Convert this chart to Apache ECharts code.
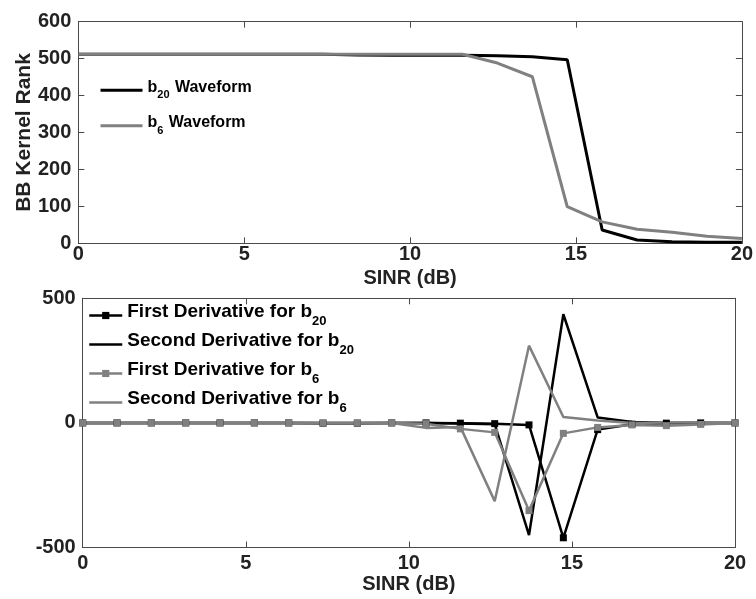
<!DOCTYPE html>
<html>
<head>
<meta charset="utf-8">
<script src="https://cdn.jsdelivr.net/npm/echarts@6/dist/echarts.min.js"></script>
<style>
  html, body { margin: 0; padding: 0; background: #fff; }
  #chart { width: 756px; height: 599px; }
</style>
</head>
<body>
<div id="chart"></div>
<script>
// ---- data ----
const sinr = [0, 1.053, 2.105, 3.158, 4.211, 5.263, 6.316, 7.368, 8.421, 9.474,
              10.526, 11.579, 12.632, 13.684, 14.737, 15.789, 16.842, 17.895, 18.947, 20];

const rankB20 = [512, 512, 512, 512, 512, 512, 512, 512, 510, 509,
                 509, 509, 508, 505, 497, 36, 9, 4, 3, 3];
const rankB6  = [512, 512, 512, 512, 512, 512, 512, 512, 512, 512,
                 512, 512, 488, 451, 99, 58, 38, 30, 19, 13];

const firstDerivB20  = [0, 0, 0, 0, 0, 0, 0, -1, -1, 0,
                        0, -1, -3, -8, -461, -27, -5, -1, 0, 0];
const secondDerivB20 = [0, 0, 0, 0, 0, 0, 0, 0, 0, 0,
                        0, -2, -5, -450, 436, 22, 4, 1, 0, 0];
const firstDerivB6   = [0, 0, 0, 0, 0, 0, 0, 0, 0, 0,
                        -3, -24, -38, -352, -42, -18, -8, -11, -6, 0];
const secondDerivB6  = [0, 0, 0, 0, 0, 0, 0, 0, 0, 0,
                        -20, -16, -314, 310, 24, 10, 0, 2, 3, 0];

const xTicks = { min: 0, max: 20, interval: 5 };
const topYTicks = { min: 0, max: 600, interval: 100 };
const botYTicks = { min: -500, max: 500, interval: 500 };

const topNames = ['b20 Waveform', 'b6 Waveform'];
const botNames = ['First Derivative for b20', 'Second Derivative for b20',
                  'First Derivative for b6', 'Second Derivative for b6'];

// ---- styling ----
const FONT = "'Liberation Sans', Arial, Helvetica, sans-serif";
const BLACK = '#000000';
const GRAY = '#808080';
const AXIS = '#4a4a4a';
const TEXT = '#222222';

function pair(arr) { return sinr.map((x, i) => [x, arr[i]]); }

function subFormatter(name) {
  const m = name.match(/^(.*b)(\d+)(.*)$/);
  if (!m) return '{n|' + name + '}';
  let s = '{n|' + m[1] + '}{s|' + m[2] + '}';
  if (m[3]) s += '{n|' + m[3] + '}';
  return s;
}

function xAxes(grid, nameGap, labelMargin) {
  return [
    {
      gridIndex: grid, type: 'value', position: 'bottom',
      min: xTicks.min, max: xTicks.max, interval: xTicks.interval,
      axisLine: { show: true, onZero: false, lineStyle: { color: AXIS, width: 1 } },
      axisTick: { show: true, inside: true, length: 6, lineStyle: { color: AXIS } },
      axisLabel: { fontFamily: FONT, fontWeight: 'bold', fontSize: 20, color: TEXT, margin: labelMargin },
      splitLine: { show: false },
      name: 'SINR (dB)', nameLocation: 'middle', nameGap: nameGap, nameMoveOverlap: false,
      nameTextStyle: { fontFamily: FONT, fontWeight: 'bold', fontSize: 20, color: TEXT }
    },
    {
      gridIndex: grid, type: 'value', position: 'top',
      min: xTicks.min, max: xTicks.max, interval: xTicks.interval,
      axisLine: { show: true, onZero: false, lineStyle: { color: AXIS, width: 1 } },
      axisTick: { show: true, inside: true, length: 6, lineStyle: { color: AXIS } },
      axisLabel: { show: false },
      splitLine: { show: false }
    }
  ];
}

function yAxes(grid, ticks, name, nameGap) {
  const main = {
    gridIndex: grid, type: 'value', position: 'left',
    min: ticks.min, max: ticks.max, interval: ticks.interval,
    axisLine: { show: true, onZero: false, lineStyle: { color: AXIS, width: 1 } },
    axisTick: { show: true, inside: true, length: 6, lineStyle: { color: AXIS } },
    axisLabel: { fontFamily: FONT, fontWeight: 'bold', fontSize: 20, color: TEXT, margin: 7 },
    splitLine: { show: false }
  };
  if (name) {
    main.name = name;
    main.nameLocation = 'middle';
    main.nameGap = nameGap;
    main.nameMoveOverlap = false;
    main.nameTextStyle = { fontFamily: FONT, fontWeight: 'bold', fontSize: 21, color: TEXT };
  }
  return [main, {
    gridIndex: grid, type: 'value', position: 'right',
    min: ticks.min, max: ticks.max, interval: ticks.interval,
    axisLine: { show: true, onZero: false, lineStyle: { color: AXIS, width: 1 } },
    axisTick: { show: true, inside: true, length: 6, lineStyle: { color: AXIS } },
    axisLabel: { show: false },
    splitLine: { show: false }
  }];
}

const hideSymbol = { opacity: 0 };

const option = {
  animation: false,
  backgroundColor: '#ffffff',
  grid: [
    { left: 78.3, top: 21.7, width: 665, height: 221.6 },
    { left: 82.7, top: 298.3, width: 652.3, height: 249.2 }
  ],
  xAxis: [].concat(xAxes(0, 25, 1), xAxes(1, 27, 6)),
  yAxis: [].concat(yAxes(0, topYTicks, 'BB Kernel Rank', 44), yAxes(1, botYTicks, null, 0)),
  legend: [
    {
      data: topNames.map(n => ({ name: n, itemStyle: hideSymbol })),
      orient: 'vertical', left: 99, top: 79.3, padding: 0,
      itemWidth: 42, itemHeight: 10, itemGap: 13.4,
      lineStyle: { width: 3 },
      formatter: subFormatter,
      textStyle: {
        fontFamily: FONT, fontWeight: 'bold', color: BLACK,
        rich: {
          n: { fontFamily: FONT, fontWeight: 'bold', fontSize: 16, lineHeight: 14, padding: [0, 0, 6, 0], color: BLACK },
          s: { fontFamily: FONT, fontWeight: 'bold', fontSize: 11, lineHeight: 10, padding: [10, 1, 0, 0], color: BLACK }
        }
      }
    },
    {
      data: [
        { name: botNames[0] },
        { name: botNames[1], itemStyle: hideSymbol },
        { name: botNames[2] },
        { name: botNames[3], itemStyle: hideSymbol }
      ],
      orient: 'vertical', left: 88, top: 302, padding: 0,
      itemWidth: 33, itemHeight: 9, itemGap: 2,
      lineStyle: { width: 2.5 },
      formatter: subFormatter,
      textStyle: {
        fontFamily: FONT, fontWeight: 'bold', color: BLACK,
        rich: {
          n: { fontFamily: FONT, fontWeight: 'bold', fontSize: 19, lineHeight: 18, padding: [0, 0, 8, 0], color: BLACK },
          s: { fontFamily: FONT, fontWeight: 'bold', fontSize: 13, lineHeight: 14, padding: [12, 0, 0, 0], color: BLACK }
        }
      }
    }
  ],
  series: [
    { name: topNames[0], type: 'line', xAxisIndex: 0, yAxisIndex: 0, data: pair(rankB20),
      symbol: 'none', lineStyle: { color: BLACK, width: 3 }, itemStyle: { color: BLACK } },
    { name: topNames[1], type: 'line', xAxisIndex: 0, yAxisIndex: 0, data: pair(rankB6),
      symbol: 'none', lineStyle: { color: GRAY, width: 3 }, itemStyle: { color: GRAY } },
    { name: botNames[0], type: 'line', xAxisIndex: 2, yAxisIndex: 2, data: pair(firstDerivB20),
      symbol: 'rect', symbolSize: 7, showAllSymbol: true,
      lineStyle: { color: BLACK, width: 2.5 }, itemStyle: { color: BLACK } },
    { name: botNames[1], type: 'line', xAxisIndex: 2, yAxisIndex: 2, data: pair(secondDerivB20),
      symbol: 'none', lineStyle: { color: BLACK, width: 2.5 }, itemStyle: { color: BLACK } },
    { name: botNames[2], type: 'line', xAxisIndex: 2, yAxisIndex: 2, data: pair(firstDerivB6),
      symbol: 'rect', symbolSize: 7, showAllSymbol: true,
      lineStyle: { color: GRAY, width: 2.5 }, itemStyle: { color: GRAY } },
    { name: botNames[3], type: 'line', xAxisIndex: 2, yAxisIndex: 2, data: pair(secondDerivB6),
      symbol: 'none', lineStyle: { color: GRAY, width: 2.5 }, itemStyle: { color: GRAY } }
  ]
};

const chart = echarts.init(document.getElementById('chart'), null, { renderer: 'canvas' });
chart.setOption(option);
</script>
</body>
</html>
